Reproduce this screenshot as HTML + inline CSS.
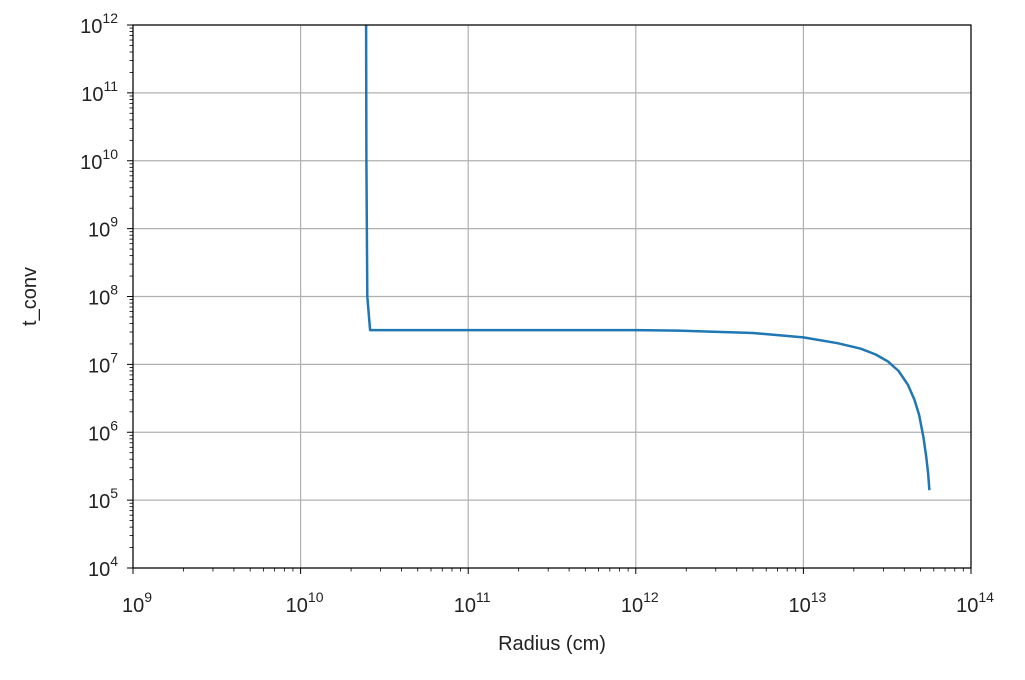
<!DOCTYPE html>
<html><head><meta charset="utf-8"><style>
body{margin:0;background:#fff;}
svg{display:block;font-family:"Liberation Sans","DejaVu Sans",sans-serif;}
</style></head><body>
<svg id="chart" width="1025" height="680" viewBox="0 0 1025 680"></svg>
<script>
const radius = [2.46e10, 2.47e10, 2.5e10, 2.6e10, 1e11, 1e12, 1.8e12, 5e12, 1e13, 1.6e13, 2.2e13, 2.7e13, 3.2e13, 3.7e13, 4.2e13, 4.6e13, 4.9e13, 5.2e13, 5.4e13, 5.55e13, 5.65e13];
const tconv = [1e12, 1e10, 1e8, 3.2e7, 3.2e7, 3.2e7, 3.15e7, 2.9e7, 2.5e7, 2.05e7, 1.7e7, 1.4e7, 1.1e7, 8e6, 5e6, 3e6, 1.8e6, 8.5e5, 4.5e5, 2.5e5, 1.4e5];
const xTickExps = [9,10,11,12,13,14];
const yTickExps = [4,5,6,7,8,9,10,11,12];
const L=133,R=971,T=25,B=568;
const xs=v=>L+(Math.log10(v)-9)/5*(R-L);
const ys=v=>B-(Math.log10(v)-4)/8*(B-T);
const svg=document.getElementById('chart');
const NS='http://www.w3.org/2000/svg';
function mk(tag,attrs,parent){const e=document.createElementNS(NS,tag);for(const k in attrs)e.setAttribute(k,attrs[k]);(parent||svg).appendChild(e);return e;}
const grid=mk('g',{});


xTickExps.forEach(e=>{const x=xs(Math.pow(10,e));mk('line',{x1:x,x2:x,y1:T,y2:B,stroke:'#b0b0b0','stroke-width':1.2},grid);});
yTickExps.forEach(e=>{const y=ys(Math.pow(10,e));mk('line',{x1:L,x2:R,y1:y,y2:y,stroke:'#b0b0b0','stroke-width':1.2},grid);});
const ticks=mk('g',{stroke:'#000'});


for(let e=9;e<14;e++)for(let m=2;m<10;m++){const x=xs(m*Math.pow(10,e));mk('line',{x1:x,x2:x,y1:B,y2:B+3.5,'stroke-width':0.8},ticks);}
for(let e=4;e<12;e++)for(let m=2;m<10;m++){const y=ys(m*Math.pow(10,e));mk('line',{x1:L,x2:L-3.5,y1:y,y2:y,'stroke-width':0.8},ticks);}
xTickExps.forEach(e=>{const x=xs(Math.pow(10,e));mk('line',{x1:x,x2:x,y1:B,y2:B+6,'stroke-width':1},ticks);
 const t=mk('text',{x:x+4,y:B+44,'text-anchor':'middle','font-size':20,fill:'#222'});
 
 
 t.innerHTML='10<tspan dy="-10" font-size="14">'+e+'</tspan>';});
yTickExps.forEach(e=>{const y=ys(Math.pow(10,e));mk('line',{x1:L,x2:L-6,y1:y,y2:y,'stroke-width':1},ticks);
 const t=mk('text',{x:L-15,y:y+8,'text-anchor':'end','font-size':20,fill:'#222'});
 
 
 t.innerHTML='10<tspan dy="-10" font-size="14">'+e+'</tspan>';});
const pts=radius.map((r,i)=>xs(r).toFixed(1)+','+ys(tconv[i]).toFixed(1)).join(' ');
const line=mk('polyline',{points:pts,fill:'none',stroke:'#1f77b4','stroke-width':2.5,'stroke-linejoin':'round'});


const frame=mk('rect',{x:L,y:T,width:R-L,height:B-T,fill:'none',stroke:'#000','stroke-width':1.2});


const xl=mk('text',{x:(L+R)/2,y:650,'text-anchor':'middle','font-size':20,fill:'#222'});
xl.textContent='Radius (cm)';


const yl=mk('text',{x:36,y:(T+B)/2,'text-anchor':'middle','font-size':20,fill:'#222',transform:'rotate(-90 36 '+((T+B)/2)+')'});
yl.textContent='t_conv';


</script>
</body></html>
